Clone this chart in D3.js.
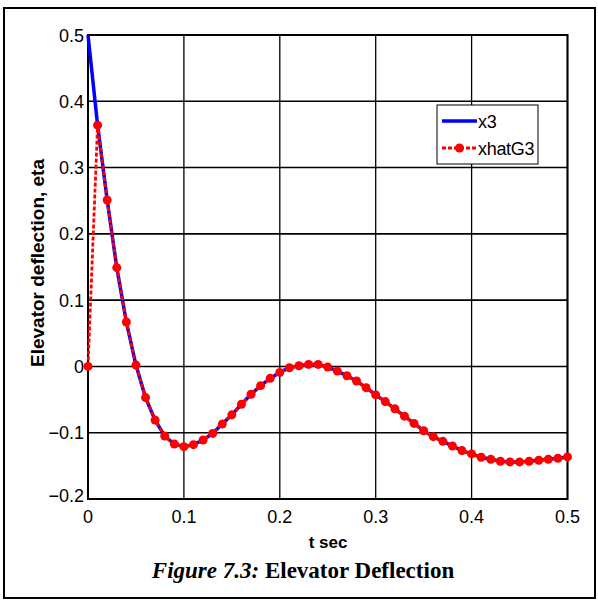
<!DOCTYPE html>
<html><head><meta charset="utf-8">
<script src="https://cdn.jsdelivr.net/npm/d3@7/dist/d3.min.js"></script>
<style>body{margin:0;background:#fff}svg{display:block}</style>
</head><body>
<svg id="c" width="598" height="601"></svg>
<script>
const tValues = d3.range(0, 51).map(i => +(i * 0.01).toFixed(2));
const x3Values = [0.5, 0.364, 0.251, 0.149, 0.067, 0.002, -0.047, -0.081, -0.105, -0.117,
  -0.121, -0.118, -0.111, -0.101, -0.087, -0.073, -0.057, -0.042, -0.029, -0.018,
  -0.009, -0.002, 0.001, 0.003, 0.003, -0.001, -0.007, -0.014, -0.022, -0.032,
  -0.043, -0.053, -0.064, -0.075, -0.086, -0.097, -0.106, -0.113, -0.120, -0.127,
  -0.132, -0.137, -0.140, -0.143, -0.144, -0.144, -0.143, -0.1415, -0.140, -0.1385, -0.1365];
const xhatG3Values = [0, 0.364, 0.251, 0.149, 0.067, 0.002, -0.047, -0.081, -0.105, -0.117,
  -0.121, -0.118, -0.111, -0.101, -0.087, -0.073, -0.057, -0.042, -0.029, -0.018,
  -0.009, -0.002, 0.001, 0.003, 0.003, -0.001, -0.007, -0.014, -0.022, -0.032,
  -0.043, -0.053, -0.064, -0.075, -0.086, -0.097, -0.106, -0.113, -0.120, -0.127,
  -0.132, -0.137, -0.140, -0.143, -0.144, -0.144, -0.143, -0.1415, -0.140, -0.1385, -0.1365];
const xTicks = [0, 0.1, 0.2, 0.3, 0.4, 0.5];
const yTicks = [-0.2, -0.1, 0, 0.1, 0.2, 0.3, 0.4, 0.5];
const seriesNames = ["x3", "xhatG3"];

const svg = d3.select("#c");
const L = 88, R = 567.5, T = 35, B = 499;
const x = d3.scaleLinear().domain([0, 0.5]).range([L, R]);
const y = d3.scaleLinear().domain([-0.2, 0.5]).range([B, T]);
const sans = "Liberation Sans, Arial, sans-serif";

// outer frame
svg.append("rect").attr("x", 4).attr("y", 8).attr("width", 591).attr("height", 590)
  .attr("fill", "none").attr("stroke", "#000").attr("stroke-width", 2);

// grid
const g = svg.append("g");
g.selectAll(".vg").data(xTicks).join("line")
  .attr("x1", d => x(d)).attr("x2", d => x(d)).attr("y1", T).attr("y2", B)
  .attr("stroke", "#000").attr("stroke-width", 1.3);
g.selectAll(".hg").data(yTicks).join("line")
  .attr("y1", d => y(d)).attr("y2", d => y(d)).attr("x1", L).attr("x2", R)
  .attr("stroke", "#000").attr("stroke-width", 1.6);

// axes frame
svg.append("rect").attr("x", L).attr("y", T).attr("width", R - L).attr("height", B - T)
  .attr("fill", "none").attr("stroke", "#000").attr("stroke-width", 2);

// tick labels
const fmt = d => d === 0 ? "0" : d3.format(".1f")(d);
svg.append("g").selectAll("text").data(xTicks).join("text")
  .attr("x", d => x(d)).attr("y", 523).attr("text-anchor", "middle")
  .attr("font-family", sans).attr("font-size", 18).text(fmt);
svg.append("g").selectAll("text").data(yTicks).join("text")
  .attr("x", 84).attr("y", d => y(d) + (d === -0.2 ? 3 : 6.5)).attr("text-anchor", "end")
  .attr("font-family", sans).attr("font-size", 18).text(fmt);

// axis titles
svg.append("text").attr("x", 328).attr("y", 548).attr("text-anchor", "middle")
  .attr("font-family", sans).attr("font-size", 17)
  .attr("font-weight", "bold").text("t sec");
svg.append("text").attr("transform", "translate(44,263) rotate(-90)").attr("text-anchor", "middle")
  .attr("font-family", sans).attr("font-size", 19)
  .attr("font-weight", "bold").text("Elevator deflection, eta");

// caption
const cap = svg.append("text").attr("x", 303).attr("y", 578).attr("text-anchor", "middle")
  .attr("font-family", "Liberation Serif, Times New Roman, serif").attr("font-size", 23)
  .attr("font-weight", "bold");
cap.append("tspan").attr("font-style", "italic").text("Figure 7.3:");
cap.append("tspan").text(" Elevator Deflection");

// lines
const line = d3.line().x((d, i) => x(tValues[i])).y(d => y(d));
const plot = svg.append("g");
plot.append("path").datum(x3Values).attr("d", line)
  .attr("fill", "none").attr("stroke", "#0000ff").attr("stroke-width", 3.5);
plot.append("path").datum(xhatG3Values).attr("d", line)
  .attr("fill", "none").attr("stroke", "#ff0000").attr("stroke-width", 2.8)
  .attr("stroke-dasharray", "4,2");
plot.selectAll("circle").data(xhatG3Values).join("circle")
  .attr("cx", (d, i) => x(tValues[i])).attr("cy", d => y(d)).attr("r", 4.5)
  .attr("fill", "#ff0000");

// legend
const lg = svg.append("g");
lg.append("rect").attr("x", 437).attr("y", 105).attr("width", 101).attr("height", 59)
  .attr("fill", "#fff").attr("stroke", "#000").attr("stroke-width", 1);
lg.append("line").attr("x1", 442).attr("x2", 477).attr("y1", 121).attr("y2", 121)
  .attr("stroke", "#0000ff").attr("stroke-width", 3.5);
lg.append("line").attr("x1", 442).attr("x2", 477).attr("y1", 148).attr("y2", 148)
  .attr("stroke", "#ff0000").attr("stroke-width", 2.8).attr("stroke-dasharray", "4,2");
lg.append("circle").attr("cx", 459.5).attr("cy", 148).attr("r", 4.5).attr("fill", "#ff0000");
lg.selectAll("text.l").data(seriesNames).join("text")
  .attr("x", 478).attr("y", (d, i) => 128 + i * 27)
  .attr("font-family", sans).attr("font-size", 18).attr("letter-spacing", -0.3)
  .text(d => d);
</script>
</body></html>
